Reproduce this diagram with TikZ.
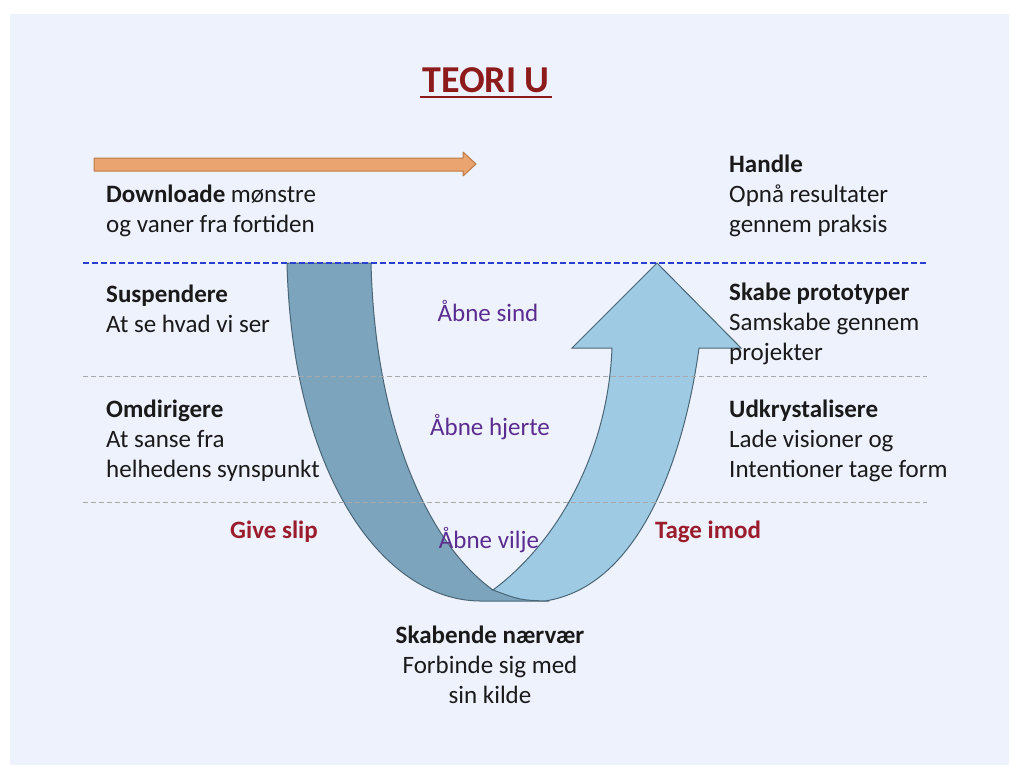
\documentclass[tikz,border=0pt]{standalone}
\usepackage{fontspec}
\setmainfont{Carlito}
\definecolor{panel}{HTML}{EEF2FD}
\definecolor{darkband}{HTML}{7DA4BD}
\definecolor{lightband}{HTML}{9ECBE3}
\definecolor{bandedge}{HTML}{4A6676}
\definecolor{orfill}{HTML}{E9A470}
\definecolor{oredge}{HTML}{BC7A45}
\definecolor{openpurple}{HTML}{5B2C8F}
\definecolor{slipred}{HTML}{9B1C2C}
\definecolor{titlered}{HTML}{8E1B1B}
\definecolor{bodytext}{HTML}{1A1A1A}
\definecolor{graydash}{HTML}{A8A8A8}
\definecolor{bluedash}{HTML}{2B3FD0}
\begin{document}
\begin{tikzpicture}[x=1pt,y=-1pt,
  body/.style={anchor=base west, inner sep=0pt, text=bodytext, font=\fontsize{25}{30}\selectfont},
  bodyb/.style={body, font=\fontsize{25}{30}\selectfont\bfseries},
  cbody/.style={body, anchor=base},
  cbodyb/.style={bodyb, anchor=base},
  opentxt/.style={anchor=base, inner sep=0pt, text=openpurple, font=\fontsize{25}{30}\selectfont},
  sliptxt/.style={anchor=base, inner sep=0pt, text=slipred, font=\fontsize{25}{30}\selectfont\bfseries},
  levelline/.style={graydash, line width=1pt, dash pattern=on 5pt off 3pt},
  topline/.style={bluedash, line width=1.6pt, dash pattern=on 6pt off 3pt}
]
\useasboundingbox (0,0) rectangle (1010,766);
\fill[white] (0,0) rectangle (1010,766);
\fill[panel] (10,14) rectangle (1009,765);

% orange arrow
\draw[oredge, fill=orfill, line width=1pt, line join=round]
  (94,158) -- (463,158) -- (463,152) -- (476,164) -- (463,176) -- (463,171) -- (94,171) -- cycle;

% dark band (Give slip)
\draw[bandedge, fill=darkband, line width=1pt]
  (287,263) -- (371,263) .. controls (375,430) and (430,545) .. (493,590)
  -- (545,601) -- (480,601) .. controls (380,600) and (292,470) .. (287,263) -- cycle;

% light arrow (Tage imod)
\draw[bandedge, fill=lightband, line width=1pt, line join=miter]
  (493,590) .. controls (560,540) and (608,450) .. (612,348)
  -- (572,348) -- (657,263) -- (741,348) -- (699,348)
  .. controls (688,430) and (650,585) .. (545,601)
  .. controls (520,600) .. (493,590) -- cycle;

% level lines
\coordinate (bl) at (83,263); \coordinate (br) at (927,263);
\coordinate (g1l) at (83,376); \coordinate (g1r) at (927,376);
\coordinate (g2l) at (83,502); \coordinate (g2r) at (927,502);
\draw[topline] (bl) -- (br);
\draw[levelline] (g1l) -- (g1r);
\draw[levelline] (g2l) -- (g2r);

% title
\node (title) [anchor=base, inner sep=0pt, text=titlered, font=\fontsize{38}{44}\selectfont\bfseries] at (486,92) {TEORI U};
\coordinate (ul) at (420,97); \coordinate (ur) at (552,97);
\draw[titlered, line width=2pt] (ul) -- (ur);

% left column
\node (dl1) [body] at (106,202) {\textbf{Downloade} mønstre};
\node (dl2) [body] at (106,232) {og vaner fra fortiden};
\node (su1) [bodyb] at (106,302) {Suspendere};
\node (su2) [body] at (106,332) {At se hvad vi ser};
\node (om1) [bodyb] at (106,417) {Omdirigere};
\node (om2) [body] at (106,447) {At sanse fra};
\node (om3) [body] at (106,477) {helhedens synspunkt};

% right column
\node (ha1) [bodyb] at (729,172) {Handle};
\node (ha2) [body] at (729,202) {Opnå resultater};
\node (ha3) [body] at (729,232) {gennem praksis};
\node (sk1) [bodyb] at (729,300) {Skabe prototyper};
\node (sk2) [body] at (729,330) {Samskabe gennem};
\node (sk3) [body] at (729,360) {projekter};
\node (ud1) [bodyb] at (729,417) {Udkrystalisere};
\node (ud2) [body] at (729,447) {Lade visioner og};
\node (ud3) [body] at (729,477) {Intentioner tage form};

% centre
\node (ab1) [opentxt] at (488,321) {Åbne sind};
\node (ab2) [opentxt] at (490,435) {Åbne hjerte};
\node (ab3) [opentxt] at (489,548) {Åbne vilje};
\node (gs) [sliptxt] at (274,538) {Give slip};
\node (ti) [sliptxt] at (708,538) {Tage imod};

% bottom
\node (sn1) [cbodyb] at (490,643) {Skabende nærvær};
\node (sn2) [cbody] at (490,673) {Forbinde sig med};
\node (sn3) [cbody] at (490,703) {sin kilde};
\end{tikzpicture}
\end{document}
